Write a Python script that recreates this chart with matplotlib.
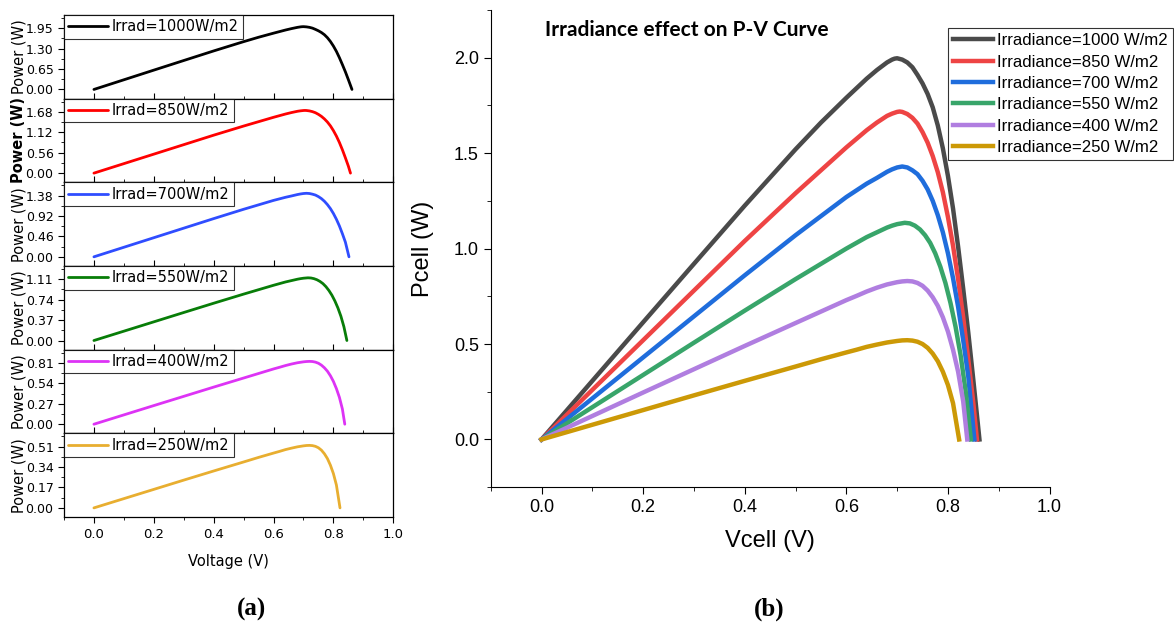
import matplotlib
matplotlib.use("Agg")
import matplotlib.pyplot as plt
from matplotlib.ticker import MultipleLocator, AutoMinorLocator

# P-V curves of the cell for six irradiance levels (V in volts, P in watts)
irrad = [1000, 850, 700, 550, 400, 250]

v_1000 = [0, 0.1, 0.2, 0.3, 0.4, 0.5, 0.55, 0.6, 0.62, 0.64, 0.66, 0.67, 0.68, 0.69, 0.695, 0.70,
          0.71, 0.72, 0.73, 0.74, 0.75, 0.76, 0.77, 0.78, 0.79, 0.80, 0.81, 0.82, 0.83, 0.84, 0.85, 0.862]
p_1000 = [0, 0.307, 0.614, 0.92, 1.225, 1.52, 1.66, 1.79, 1.84, 1.89, 1.935, 1.955, 1.975, 1.99, 1.995, 1.997,
          1.99, 1.975, 1.95, 1.91, 1.865, 1.81, 1.74, 1.645, 1.525, 1.38, 1.21, 1.01, 0.79, 0.56, 0.31, 0]

v_850 = [0, 0.1, 0.2, 0.3, 0.4, 0.5, 0.55, 0.6, 0.62, 0.64, 0.66, 0.68, 0.69, 0.70, 0.705, 0.71,
         0.72, 0.73, 0.74, 0.75, 0.76, 0.77, 0.78, 0.79, 0.80, 0.81, 0.82, 0.83, 0.84, 0.85, 0.857]
p_850 = [0, 0.26, 0.52, 0.78, 1.04, 1.29, 1.41, 1.53, 1.575, 1.62, 1.66, 1.695, 1.707, 1.716, 1.718, 1.716,
         1.705, 1.685, 1.655, 1.61, 1.555, 1.485, 1.40, 1.295, 1.165, 1.015, 0.84, 0.64, 0.42, 0.19, 0]

v_700 = [0, 0.1, 0.2, 0.3, 0.4, 0.5, 0.55, 0.6, 0.62, 0.64, 0.66, 0.68, 0.69, 0.70, 0.71,
         0.72, 0.73, 0.74, 0.75, 0.76, 0.77, 0.78, 0.79, 0.80, 0.81, 0.82, 0.83, 0.84, 0.852]
p_700 = [0, 0.215, 0.43, 0.645, 0.86, 1.07, 1.17, 1.27, 1.305, 1.34, 1.37, 1.402, 1.415, 1.425, 1.43,
         1.425, 1.41, 1.39, 1.355, 1.31, 1.25, 1.175, 1.085, 0.975, 0.845, 0.695, 0.52, 0.33, 0]

v_550 = [0, 0.1, 0.2, 0.3, 0.4, 0.5, 0.55, 0.6, 0.62, 0.64, 0.66, 0.68, 0.69, 0.70, 0.715,
         0.725, 0.735, 0.745, 0.755, 0.765, 0.775, 0.785, 0.795, 0.805, 0.815, 0.825, 0.835, 0.845]
p_550 = [0, 0.169, 0.338, 0.507, 0.675, 0.84, 0.92, 1.0, 1.03, 1.06, 1.085, 1.11, 1.12, 1.128, 1.135,
         1.132, 1.12, 1.10, 1.07, 1.03, 0.975, 0.905, 0.82, 0.715, 0.59, 0.44, 0.25, 0]

v_400 = [0, 0.1, 0.2, 0.3, 0.4, 0.5, 0.55, 0.6, 0.62, 0.64, 0.66, 0.68, 0.70, 0.71, 0.72,
         0.73, 0.74, 0.75, 0.76, 0.77, 0.78, 0.79, 0.80, 0.81, 0.82, 0.83, 0.838]
p_400 = [0, 0.123, 0.246, 0.368, 0.49, 0.61, 0.67, 0.73, 0.752, 0.775, 0.795, 0.812, 0.824, 0.828, 0.83,
         0.828, 0.82, 0.805, 0.78, 0.745, 0.70, 0.64, 0.565, 0.47, 0.355, 0.20, 0]

v_250 = [0, 0.1, 0.2, 0.3, 0.4, 0.5, 0.55, 0.6, 0.62, 0.64, 0.66, 0.68, 0.70, 0.71, 0.72,
         0.73, 0.74, 0.75, 0.76, 0.77, 0.78, 0.79, 0.80, 0.81, 0.822]
p_250 = [0, 0.077, 0.154, 0.231, 0.307, 0.382, 0.42, 0.456, 0.47, 0.485, 0.497, 0.508, 0.516, 0.519, 0.52,
         0.518, 0.512, 0.50, 0.48, 0.45, 0.41, 0.355, 0.285, 0.19, 0]

volts = [v_1000, v_850, v_700, v_550, v_400, v_250]
powers = [p_1000, p_850, p_700, p_550, p_400, p_250]

# top y tick of each stacked panel (ticks at 0, 1/3, 2/3 of it)
top_ticks = [1.95, 1.68, 1.38, 1.11, 0.81, 0.51]

colors_a = ["#000000", "#ff0000", "#2f4dff", "#087d08", "#dd33f5", "#e8ae30"]
colors_b = ["#4a4a4a", "#ee4444", "#1f6ddc", "#38a56a", "#b07ee0", "#cc9906"]

NARROW = ["Liberation Sans Narrow", "DejaVu Sans Condensed", "Liberation Sans"]
ARIAL = ["Liberation Sans", "DejaVu Sans"]

fig = plt.figure(figsize=(11.74, 6.23), dpi=100)

# ---- (a) six stacked panels ----
gs = fig.add_gridspec(6, 1, left=0.0545, right=0.335, top=0.976, bottom=0.170, hspace=0)
axes_a = [fig.add_subplot(gs[i, 0]) for i in range(6)]
for i, ax in enumerate(axes_a):
    ax.plot(volts[i], powers[i], color=colors_a[i], lw=2.0, solid_capstyle="round")
    p = top_ticks[i]
    ax.set_ylim(-0.15 * p, 1.215 * p)
    ax.set_yticks([0, p / 3, 2 * p / 3, p])
    ax.set_yticklabels(["%.2f" % t for t in [0, p / 3, 2 * p / 3, p]])
    ax.yaxis.set_minor_locator(AutoMinorLocator(2))
    ax.set_xlim(-0.1, 1.0)
    ax.xaxis.set_major_locator(MultipleLocator(0.2))
    ax.xaxis.set_minor_locator(MultipleLocator(0.1))
    ax.tick_params(axis="y", which="major", direction="out", length=4, labelsize=9)
    ax.tick_params(axis="y", which="minor", direction="out", length=2)
    if i < 5:
        ax.tick_params(axis="x", which="both", direction="in", labelbottom=False)
        ax.tick_params(axis="x", which="major", length=4)
        ax.tick_params(axis="x", which="minor", length=2)
    else:
        ax.tick_params(axis="x", which="major", direction="out", length=4, labelsize=9.5)
        ax.tick_params(axis="x", which="minor", direction="out", length=2)
        ax.set_xlabel("Voltage (V)", fontsize=10.5, labelpad=10)
    ax.set_ylabel("Power (W)", fontsize=10.5, fontweight="bold" if i == 1 else "normal")
    ax.yaxis.set_label_coords(-0.115, 0.5)
    leg = ax.legend(["Irrad=%dW/m2" % irrad[i]], loc="upper left", fontsize=10.5,
                    frameon=True, fancybox=False, handlelength=2.7, handletextpad=0.3,
                    borderpad=0.3, borderaxespad=0.0)
    leg.get_frame().set_edgecolor("black")
    leg.get_frame().set_linewidth(0.8)
    for sp in ax.spines.values():
        sp.set_linewidth(0.9)

# ---- (b) all curves on one axes ----
axb = fig.add_axes([0.418, 0.218, 0.476, 0.766])
for i in range(6):
    axb.plot(volts[i], powers[i], color=colors_b[i], lw=3.2,
             label="Irradiance=%d W/m2" % irrad[i])
axb.set_xlim(-0.1, 1.0)
axb.set_ylim(-0.25, 2.25)
axb.xaxis.set_major_locator(MultipleLocator(0.2))
axb.xaxis.set_minor_locator(MultipleLocator(0.1))
axb.yaxis.set_major_locator(MultipleLocator(0.5))
axb.yaxis.set_minor_locator(MultipleLocator(0.25))
axb.spines["top"].set_visible(False)
axb.spines["right"].set_visible(False)
axb.tick_params(which="major", direction="out", length=5, labelsize=13)
axb.tick_params(which="minor", direction="out", length=3)
for lab in axb.get_xticklabels() + axb.get_yticklabels():
    lab.set_family(ARIAL)
axb.set_xlabel("Vcell (V)", fontsize=17, family=ARIAL, labelpad=10)
axb.set_ylabel("Pcell (W)", fontsize=17, family=ARIAL, labelpad=14)
axb.text(0.097, 0.958, "Irradiance effect on P-V Curve", transform=axb.transAxes,
         fontsize=15, fontweight="bold", family=["Lato", "DejaVu Sans"], va="center")
legb = axb.legend(loc="upper left", bbox_to_anchor=(0.8175, 0.962),
                  prop={"family": NARROW, "size": 12.1}, frameon=True, fancybox=False,
                  handlelength=2.4, handletextpad=0.25, borderpad=0.3, labelspacing=0.38,
                  borderaxespad=0.0)
legb.get_frame().set_edgecolor("black")
legb.get_frame().set_linewidth(0.8)

fig.text(0.214, 0.0225, "(a)", fontsize=18, fontweight="bold", family="Liberation Serif",
         ha="center", va="center")
fig.text(0.655, 0.0225, "(b)", fontsize=18, fontweight="bold", family="Liberation Serif",
         ha="center", va="center")

fig.savefig("out.png", dpi=100)
